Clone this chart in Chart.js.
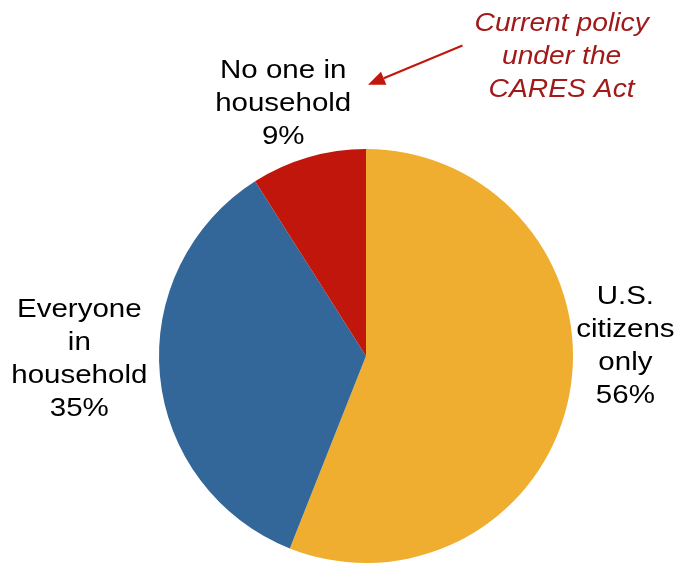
<!DOCTYPE html>
<html>
<head>
<meta charset="utf-8">
<script src="https://cdn.jsdelivr.net/npm/chart.js@4/dist/chart.umd.min.js"></script>
<style>
html,body{margin:0;padding:0;background:#fff;}
#wrap{width:680px;height:563px;position:relative;}
</style>
</head>
<body>
<div id="wrap"><canvas id="c" width="680" height="563"></canvas></div>
<script>
const categories = ["U.S. citizens only", "Everyone in household", "No one in household"];
const values = [56, 35, 9];
const colors = ["#EFAE2F", "#336799", "#C0160C"];
const labelLines = [
  ["U.S.", "citizens", "only"],
  ["Everyone", "in", "household"],
  ["No one in", "household"]
];
const annotationLines = ["Current policy", "under the", "CARES Act"];

function stretchedText(ctx, t, x, y, sx) {
  ctx.save();
  ctx.translate(x, y);
  ctx.scale(sx, 1);
  ctx.fillText(t, 0, 0);
  ctx.restore();
}

const labelPlugin = {
  id: 'labels',
  afterDraw(chart) {
    const ctx = chart.ctx;
    const meta = chart.getDatasetMeta(0);
    const arc0 = meta.data[0];
    const cx = arc0.x, cy = arc0.y, r = arc0.outerRadius;
    ctx.save();
    ctx.fillStyle = '#000';
    ctx.font = '25px "Liberation Sans", Arial, sans-serif';
    ctx.textAlign = 'center';
    ctx.textBaseline = 'middle';
    const lh = 33;
    const pos = [
      {x: cx + r * 1.253, y: cy - r * 0.285},
      {x: cx - r * 1.385, y: cy - r * 0.22},
      {x: cx - r * 0.40, y: cy - r * 1.375}
    ];
    values.forEach((v, i) => {
      const lines = labelLines[i].concat([v + '%']);
      lines.forEach((t, j) => stretchedText(ctx, t, pos[i].x, pos[i].y + j * lh, 1.18));
    });
    ctx.fillStyle = '#A11A1A';
    ctx.font = 'italic 25px "Liberation Sans", Arial, sans-serif';
    const ax = cx + r * 0.945, ay = cy - r * 1.605;
    annotationLines.forEach((t, j) => stretchedText(ctx, t, ax, ay + j * lh, 1.13));
    const x1 = cx + r * 0.466, y1 = cy - r * 1.50;
    const x2 = cx + 2, y2 = cy - r * 1.31;
    ctx.strokeStyle = '#C0160C';
    ctx.fillStyle = '#C0160C';
    ctx.lineWidth = 2;
    const ang = Math.atan2(y2 - y1, x2 - x1);
    const hl = 17, hw = 7;
    const bx = x2 - hl * Math.cos(ang), by = y2 - hl * Math.sin(ang);
    ctx.beginPath();
    ctx.moveTo(x1, y1);
    ctx.lineTo(bx, by);
    ctx.stroke();
    ctx.beginPath();
    ctx.moveTo(x2, y2);
    ctx.lineTo(bx + hw * Math.sin(ang), by - hw * Math.cos(ang));
    ctx.lineTo(bx - hw * Math.sin(ang), by + hw * Math.cos(ang));
    ctx.closePath();
    ctx.fill();
    ctx.restore();
  }
};

new Chart(document.getElementById('c'), {
  type: 'pie',
  data: {
    labels: categories,
    datasets: [{
      data: values,
      backgroundColor: colors,
      borderWidth: 0
    }]
  },
  options: {
    responsive: false,
    animation: false,
    layout: { padding: { left: 158, right: 106, top: 149, bottom: 0 } },
    plugins: { legend: { display: false }, tooltip: { enabled: false } }
  },
  plugins: [labelPlugin]
});
</script>
</body>
</html>
